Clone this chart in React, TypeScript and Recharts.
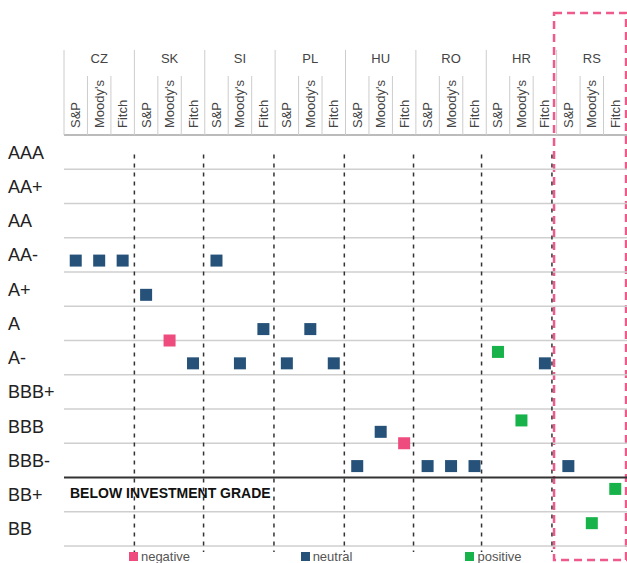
import { ScatterChart, Scatter, XAxis, YAxis, ReferenceLine, ReferenceArea } from 'recharts';

const countries = ['CZ', 'SK', 'SI', 'PL', 'HU', 'RO', 'HR', 'RS'];
const agencies = ['S&P', "Moody's", 'Fitch'];
// lowest to highest
const ratingScale = ['BB', 'BB+', 'BBB-', 'BBB', 'BBB+', 'A-', 'A', 'A+', 'AA-', 'AA', 'AA+', 'AAA'];

// one entry per country x agency, same order as the header columns
const ratings = [
  'AA-', 'AA-', 'AA-',
  'A+', 'A', 'A-',
  'AA-', 'A-', 'A',
  'A-', 'A', 'A-',
  'BBB-', 'BBB', 'BBB',
  'BBB-', 'BBB-', 'BBB-',
  'A-', 'BBB', 'A-',
  'BBB-', 'BB', 'BB+',
];
const outlooks = [
  'neutral', 'neutral', 'neutral',
  'neutral', 'negative', 'neutral',
  'neutral', 'neutral', 'neutral',
  'neutral', 'neutral', 'neutral',
  'neutral', 'neutral', 'negative',
  'neutral', 'neutral', 'neutral',
  'positive', 'positive', 'neutral',
  'neutral', 'positive', 'positive',
];

const legendOrder = ['negative', 'neutral', 'positive'];
const outlookShift: Record<string, number> = { negative: -1 / 3, neutral: 0, positive: 1 / 3 };
const outlookColors: Record<string, string> = {
  negative: '#ee4c7e',
  neutral: '#26527a',
  positive: '#17b34a',
};

// dashed separators between countries, in column units
const dividers = [2.5, 5.45, 8.45, 11.45, 14.4, 17.3, 20.3];

const WIDTH = 627;
const HEIGHT = 563;
const Y_AXIS_W = 64;
const COL_W = (WIDTH - Y_AXIS_W) / (countries.length * agencies.length);
const FONT = '"Liberation Sans", Arial, sans-serif';

const points = ratings.map((r, i) => ({
  x: i,
  y: ratingScale.indexOf(r) + 1 + outlookShift[outlooks[i]],
  outlook: outlooks[i],
}));

const columnTicks = ratings.map((_, i) => i);
const labelTicks = ratingScale.map((_, i) => i + 1 + 1 / 6);
// row borders sit just under each neutral position
const rowLines = [...ratingScale.map((_, i) => i + 1 - 1 / 3), ratingScale.length + 2 / 3].filter(
  (v) => Math.abs(v - (3 - 1 / 3)) > 0.01
);

function HeaderTick(props: any) {
  const { x, y, payload } = props;
  const i = payload.value as number;
  const left = x - COL_W / 2;
  return (
    <g fontFamily={FONT}>
      <line x1={left} x2={left} y1={i % 3 === 0 ? y - 85 : y - 59} y2={y} stroke="#cccccc" />
      {i % 3 === 1 && (
        <text x={x} y={y - 72} textAnchor="middle" fontSize={13} fill="#444">
          {countries[Math.floor(i / 3)]}
        </text>
      )}
      <text transform={`translate(${x + 4.5},${y - 7}) rotate(-90)`} fontSize={13} fill="#444">
        {agencies[i % 3]}
      </text>
    </g>
  );
}

function RatingTick(props: any) {
  const { y, payload } = props;
  const idx = Math.round(payload.value - 1 / 6) - 1;
  return (
    <text x={8} y={y} dy="0.36em" fontSize={18} fill="#222" fontFamily={FONT}>
      {ratingScale[idx]}
    </text>
  );
}

function BelowLabel(props: any) {
  const vb = props.viewBox || { x: 0, y: 0 };
  return (
    <text x={vb.x + 6} y={vb.y + 20} fontSize={14} fontWeight="bold" fill="#111" fontFamily={FONT}>
      BELOW INVESTMENT GRADE
    </text>
  );
}

const square = (color: string) => (p: any) => (
  <rect x={p.cx - 6} y={p.cy - 6} width={12} height={12} fill={color} />
);

export default function App() {
  return (
    <div style={{ position: 'absolute', left: 0, top: 0, width: WIDTH, height: HEIGHT }}>
      <ScatterChart width={WIDTH} height={HEIGHT} margin={{ top: 0, right: 0, bottom: 17, left: 0 }}>
        <XAxis
          type="number"
          dataKey="x"
          orientation="top"
          domain={[-0.5, ratings.length - 0.5]}
          ticks={columnTicks}
          interval={0}
          height={135}
          tickSize={0}
          tickMargin={0}
          axisLine={false}
          tickLine={false}
          tick={HeaderTick}
        />
        <YAxis
          type="number"
          dataKey="y"
          domain={[2 / 3, ratingScale.length + 2 / 3]}
          ticks={labelTicks}
          interval={0}
          width={Y_AXIS_W}
          axisLine={false}
          tickLine={false}
          tick={RatingTick}
        />
        {rowLines.map((v) => (
          <ReferenceLine
            key={v}
            y={v}
            stroke={v > ratingScale.length ? '#bbbbbb' : '#cfcfcf'}
            strokeWidth={v > ratingScale.length ? 2 : 1.5}
            ifOverflow="visible"
          />
        ))}
        <ReferenceLine y={3 - 1 / 3} stroke="#333" strokeWidth={2} ifOverflow="visible" label={<BelowLabel />} />
        {dividers.map((d) => (
          <ReferenceLine
            key={d}
            segment={[{ x: d, y: 12.1 }, { x: d, y: 0.49 }]}
            stroke="#333"
            strokeWidth={1.5}
            strokeDasharray="4 5"
            ifOverflow="visible"
          />
        ))}
        <ReferenceArea
          x1={20.39}
          x2={23.46}
          y1={0.26}
          y2={16.23}
          fill="none"
          stroke="#ee5a8a"
          strokeWidth={2.5}
          strokeDasharray="8 5"
          ifOverflow="visible"
        />
        {legendOrder.map((o) => (
          <Scatter
            key={o}
            name={o}
            data={points.filter((p) => p.outlook === o)}
            fill={outlookColors[o]}
            shape={square(outlookColors[o])}
            isAnimationActive={false}
          />
        ))}
      </ScatterChart>
      <div
        style={{
          position: 'absolute',
          left: 76,
          top: 548,
          width: 501,
          height: 16,
          display: 'flex',
          fontFamily: FONT,
          fontSize: 13,
          color: '#555',
        }}
      >
        {legendOrder.map((o) => (
          <div key={o} style={{ flex: 1, display: 'flex', alignItems: 'center', justifyContent: 'center' }}>
            <span style={{ width: 9, height: 9, background: outlookColors[o], marginRight: 3 }} />
            <span>{o}</span>
          </div>
        ))}
      </div>
    </div>
  );
}
